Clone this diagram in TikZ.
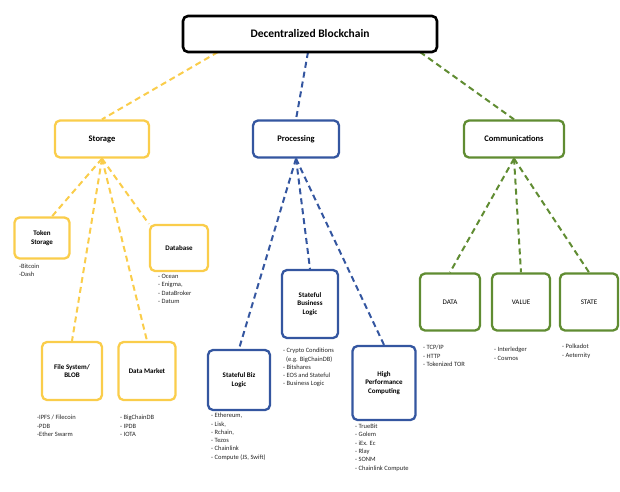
\documentclass[tikz,border=0pt]{standalone}
\usepackage{fontspec}
\setmainfont{Carlito}
\definecolor{ylw}{RGB}{250,205,75}
\definecolor{blu}{RGB}{52,86,160}
\definecolor{grn}{RGB}{96,140,50}
\begin{document}
\begin{tikzpicture}[x=1pt,y=-1pt,
  box/.style={draw,line width=2.3pt,rounded corners=5pt,fill=white,align=center,font=\bfseries\fontsize{7}{8.5}\selectfont,inner sep=1pt},
  lvl/.style={box,font=\bfseries\fontsize{8.5}{10}\selectfont},
  lst/.style={anchor=north west,align=left,font=\fontsize{6.5}{8.3}\selectfont,inner sep=0pt,text=black!85},
  con/.style={dashed,line width=2pt,dash pattern=on 6pt off 4pt}]
\useasboundingbox (0,0) rectangle (620,491);
% connectors first (drawn underneath)
\coordinate (tys) at (218,52);
\coordinate (tbs) at (308,52);
\coordinate (tgs) at (420,52);
% level 1
\node[lvl,draw=ylw,minimum width=94pt,minimum height=37pt] (sto) at (102,139) {Storage};
\node[lvl,draw=blu,minimum width=86pt,minimum height=37pt] (pro) at (296,139) {Processing};
\node[lvl,draw=grn,minimum width=100pt,minimum height=37pt] (com) at (514,139) {Communications};
% storage children
\node[box,draw=ylw,minimum width=55pt,minimum height=41pt] (tok) at (42,238) {Token\\Storage};
\node[box,draw=ylw,minimum width=58pt,minimum height=46pt] (db) at (179,248) {Database};
\node[box,draw=ylw,minimum width=60pt,minimum height=58pt] (fs) at (72,371) {File System/\\BLOB};
\node[box,draw=ylw,minimum width=57pt,minimum height=58pt] (dm) at (147,371) {Data Market};
% processing children
\node[box,draw=blu,minimum width=62pt,minimum height=60pt] (sbz) at (239,380) {Stateful Biz\\Logic};
\node[box,draw=blu,minimum width=56pt,minimum height=68pt] (sbl) at (310,304) {Stateful\\Business\\Logic};
\node[box,draw=blu,minimum width=63pt,minimum height=74pt] (hpc) at (384,383) {High\\Performance\\Computing};
% comm children
\node[box,draw=grn,minimum width=60pt,minimum height=57pt,font=\fontsize{7}{8.5}\selectfont] (dat) at (450,302) {DATA};
\node[box,draw=grn,minimum width=58pt,minimum height=57pt,font=\fontsize{7}{8.5}\selectfont] (val) at (521,302) {VALUE};
\node[box,draw=grn,minimum width=58pt,minimum height=57pt,font=\fontsize{7}{8.5}\selectfont] (sta) at (589,302) {STATE};
% connectors
\draw[con,ylw] (tys) -- (sto.north);
\draw[con,blu] (tbs) -- (pro.north);
\draw[con,grn] (tgs) -- (com.north);
\draw[con,ylw] (sto.south) -- ([xshift=10pt]tok.north);
\draw[con,ylw] (sto.south) -- (db.north west);
\draw[con,ylw] (sto.south) -- (fs.north);
\draw[con,ylw] (sto.south) -- (dm.north);
\draw[con,blu] (pro.south) -- (sbz.north);
\draw[con,blu] (pro.south) -- (sbl.north);
\draw[con,blu] (pro.south) -- (hpc.north);
\draw[con,grn] (com.south) -- (dat.north);
\draw[con,grn] (com.south) -- (val.north);
\draw[con,grn] (com.south) -- (sta.north);
% top box
\node[box,draw=black,line width=2.6pt,minimum width=254pt,minimum height=36pt,font=\bfseries\fontsize{11.5}{13}\selectfont] (top) at (310,34) {Decentralized Blockchain};
% lists
\node[lst] (ltok) at (19,264) {-Bitcoin\\-Dash};
\node[lst] (ldb) at (158,274) {- Ocean\\- Enigma,\\- DataBroker\\- Datum};
\node[lst] (lfs) at (37,415) {-IPFS / Filecoin\\-PDB\\-Ether Swarm};
\node[lst] (ldm) at (120,415) {- BigChainDB\\- IPDB\\- IOTA};
\node[lst] (lsbz) at (211,413) {- Ethereum,\\- Lisk,\\- Rchain,\\- Tezos\\- Chainlink\\- Compute (JS, Swift)};
\node[lst] (lsbl) at (283,348) {- Crypto Conditions\\\hspace{3pt}(e.g. BigChainDB)\\- Bitshares\\- EOS and Stateful\\- Business Logic};
\node[lst] (lhpc) at (355,424) {- TrueBit\\- Golem\\- iEx. Ec\\- Rlay\\- SONM\\- Chainlink Compute};
\node[lst] (ldat) at (423,345) {- TCP/IP\\- HTTP\\- Tokenized TOR};
\node[lst] (lval) at (494,347) {- Interledger\\- Cosmos};
\node[lst] (lsta) at (562,344) {- Polkadot\\- Aeternity};
\end{tikzpicture}
\end{document}
